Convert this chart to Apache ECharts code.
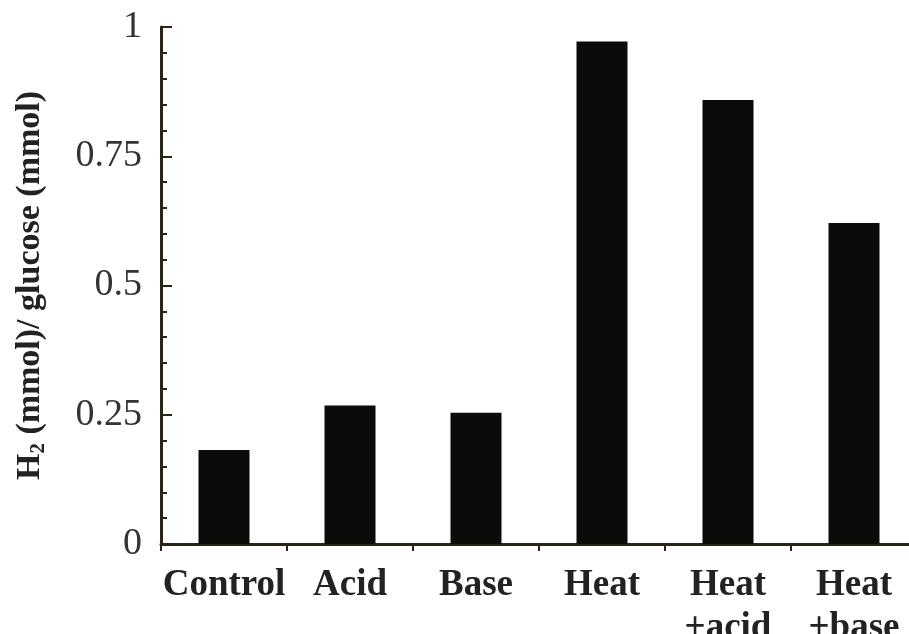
<!DOCTYPE html>
<html><head><meta charset="utf-8">
<script src="https://cdn.jsdelivr.net/npm/echarts@6/dist/echarts.min.js"></script>
<style>html,body{margin:0;padding:0;background:#fff}#c{width:909px;height:634px}</style>
</head><body><div id="c"></div>
<script>
var categories = ['Control', 'Acid', 'Base', 'Heat', 'Heat\n+acid', 'Heat\n+base'];
var h2Yield = [0.182, 0.268, 0.254, 0.972, 0.859, 0.621];
var yTicks = [0, 0.25, 0.5, 0.75, 1];

var chart = echarts.init(document.getElementById('c'));
var serif = '"Liberation Serif", "DejaVu Serif", serif';
chart.setOption({
  animation: false,
  backgroundColor: '#fff',
  grid: { left: 161, right: -8, top: 27, bottom: 90, containLabel: false, outerBoundsMode: 'none' },
  xAxis: {
    type: 'category',
    data: categories,
    axisLine: { lineStyle: { color: '#2a2414', width: 3 } },
    axisTick: { show: true, length: 7, lineStyle: { color: '#2a2414', width: 2 } },
    axisLabel: { interval: 0, color: '#222', fontFamily: serif, fontWeight: 'bold', fontSize: 37, lineHeight: 43, margin: 20 }
  },
  yAxis: {
    type: 'value',
    min: 0, max: 1, interval: 0.25,
    name: '{a|H}{s|2}{a| (mmol)/ glucose (mmol)}',
    nameLocation: 'middle',
    nameGap: 112,
    nameRotate: 90,
    nameTextStyle: {
      rich: {
        a: { fontFamily: serif, fontWeight: 'bold', fontSize: 34, color: '#222' },
        s: { fontFamily: serif, fontWeight: 'bold', fontSize: 21, color: '#222', verticalAlign: 'bottom', padding: [16, 0, 0, 0] }
      }
    },
    axisLine: { show: true, lineStyle: { color: '#2a2414', width: 3 } },
    axisTick: { show: true, inside: true, length: 11, lineStyle: { color: '#2a2414', width: 2 } },
    minorTick: { show: true, splitNumber: 5, length: 6, lineStyle: { color: '#2a2414', width: 2 } },
    splitLine: { show: false },
    axisLabel: {
      color: '#333', fontFamily: serif, fontSize: 38, margin: 19,
      formatter: function (v) { return yTicks.indexOf(v) >= 0 ? String(v) : ''; }
    }
  },
  series: [{
    type: 'bar',
    data: h2Yield,
    barWidth: 51,
    itemStyle: { color: '#0d0a0a' }
  }]
});
</script></body></html>
